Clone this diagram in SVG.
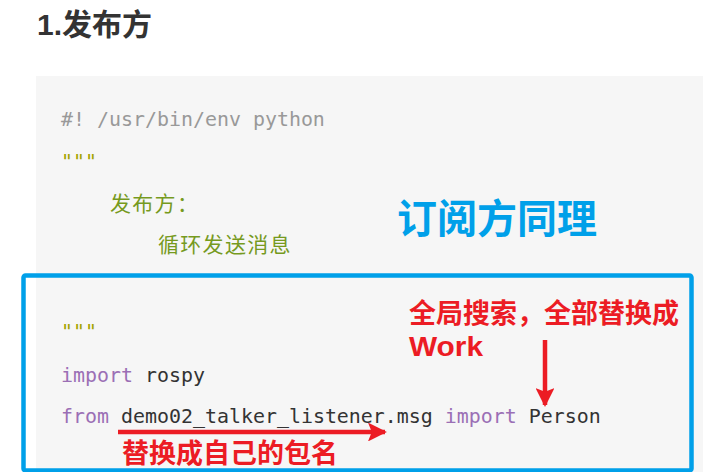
<svg xmlns="http://www.w3.org/2000/svg" width="703" height="472" viewBox="0 0 703 472">
<style>
.code{font-family:"DejaVu Sans Mono","Liberation Mono",monospace;font-size:19.93px;fill:#333}
.cmt{fill:#999}
.q{fill:#a3a300}
.kw{fill:#9b6fb5}
.zh{font-family:"Noto Sans CJK SC",sans-serif;font-size:21px;fill:#769a1e;letter-spacing:1.3px}
.red{font-family:"Liberation Sans","Noto Sans CJK SC",sans-serif;font-weight:bold;font-size:27px;fill:#ec1c24}
</style>
<defs>
<marker id="ah" viewBox="0 0 10 10" refX="9" refY="5" markerWidth="5" markerHeight="4.2" markerUnits="strokeWidth" orient="auto">
<path d="M0,0 L10,5 L0,10 L2,5 Z" fill="#ec1c24"/>
</marker>
</defs>
<rect width="703" height="472" fill="#ffffff"/>
<g id="title">
<text x="37" y="35" font-family="Liberation Sans,'Noto Sans CJK SC',sans-serif" font-weight="bold" font-size="30" fill="#333">1.发布方</text>
</g>
<g id="codebox">
<rect x="36" y="76" width="667" height="396" fill="#f6f6f6"/>
<text class="code cmt" x="61" y="126">#! /usr/bin/env python</text>
<text class="code q" x="61" y="168" font-size="14">"""</text>
<text class="zh" x="110" y="211">发布方：</text>
<text class="zh" x="158" y="252">循环发送消息</text>
<text class="code q" x="61" y="338" font-size="14">"""</text>
<text class="code" x="61" y="382"><tspan class="kw">import</tspan> rospy</text>
<text class="code" x="61" y="423"><tspan class="kw">from</tspan> demo02_talker_listener.msg <tspan class="kw">import</tspan> Person</text>
</g>
<g id="highlight">
<rect x="23.5" y="275.5" width="668" height="195" rx="2" fill="none" stroke="#00a0e9" stroke-width="4.5"/>
</g>
<g id="subscriber-note">
<text x="397" y="233" font-family="'Noto Sans CJK SC',sans-serif" font-weight="bold" font-size="40" fill="#00a0e9">订阅方同理</text>
</g>
<g id="replace-note">
<text class="red" x="409" y="323">全局搜索，全部替换成</text>
<text class="red" x="409" y="356" textLength="74" lengthAdjust="spacingAndGlyphs">Work</text>
</g>
<g id="package-note">
<text class="red" x="122" y="463">替换成自己的包名</text>
</g>
<g id="connectors" stroke="#ec1c24" stroke-width="4.5" fill="none">
<line x1="118" y1="432" x2="385" y2="432" marker-end="url(#ah)"/>
<line x1="545" y1="340" x2="545" y2="405" marker-end="url(#ah)"/>
</g>
</svg>
